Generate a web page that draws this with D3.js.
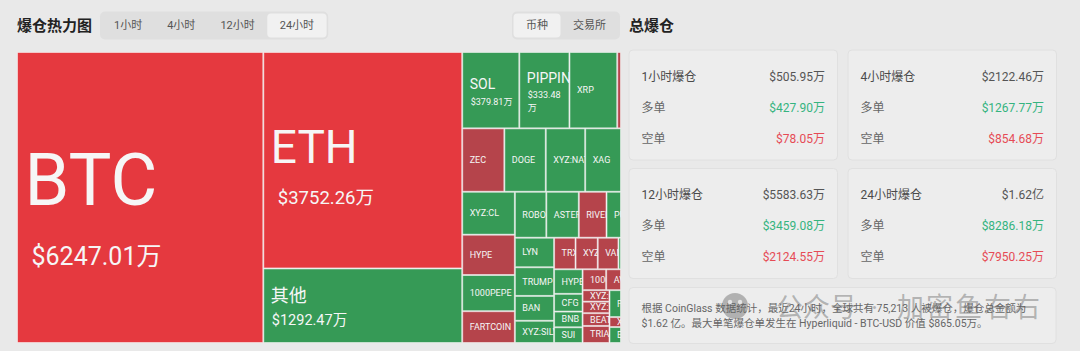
<!DOCTYPE html>
<html lang="zh">
<head>
<meta charset="UTF-8" />
<title>爆仓热力图</title>
<script src="https://cdn.jsdelivr.net/npm/d3@7"></script>
<style>
  body { margin: 0; background: #e9e9e9; }
  svg { display: block; font-family: Roboto, "Noto Sans CJK SC", sans-serif; }
</style>
</head>
<body>
<script>
// ---- treemap data (万 USD) ----
var coins = ["BTC", "ETH", "其他",
  "SOL", "PIPPIN", "XRP", "AAVE",
  "ZEC", "DOGE", "XYZ:NATGAS", "XAG",
  "XYZ:CL", "HYPE", "1000PEPE", "FARTCOIN",
  "ROBO", "ASTER", "RIVER", "PUMP",
  "LYN", "TRUMP", "BAN", "XYZ:SILVER",
  "TRX", "XYZ:NVDA", "VANA", "ZORA",
  "HYPER", "CFG", "BNB", "SUI",
  "1000BONK", "AVAX",
  "XYZ:GOLD", "XYZ:TSLA", "BEAT", "TRIA",
  "FIL", "XLM", "ENA"];
var amounts = [6247.01, 3752.26, 1292.47,
  379.81, 333.48, 318, 25,
  233, 229, 218, 198,
  197, 185, 166, 146,
  126, 130, 111, 58,
  101, 98, 85, 76,
  59, 61, 57, 7,
  61, 44, 39, 39,
  43, 27,
  27, 27, 30, 40,
  27, 10, 16];
// up = green, down = red, hot = bright red
var trend = ["hot", "hot", "up",
  "up", "up", "up", "down",
  "down", "up", "up", "up",
  "up", "down", "up", "down",
  "up", "up", "down", "up",
  "up", "up", "up", "up",
  "down", "down", "down", "up",
  "up", "up", "up", "up",
  "down", "down",
  "down", "down", "down", "down",
  "up", "down", "up"];
// nesting of the squarified rows / columns
var groups = ["", "g1", "g1",
  "g2/r1", "g2/r1", "g2/r1", "g2/r1",
  "g2/r2", "g2/r2", "g2/r2", "g2/r2",
  "g2/r3/c1", "g2/r3/c1", "g2/r3/c1", "g2/r3/c1",
  "g2/r3/c2/r1", "g2/r3/c2/r1", "g2/r3/c2/r1", "g2/r3/c2/r1",
  "g2/r3/c2/r2/c1", "g2/r3/c2/r2/c1", "g2/r3/c2/r2/c1", "g2/r3/c2/r2/c1",
  "g2/r3/c2/r2/c2/r1", "g2/r3/c2/r2/c2/r1", "g2/r3/c2/r2/c2/r1", "g2/r3/c2/r2/c2/r1",
  "g2/r3/c2/r2/c2/r2/c1", "g2/r3/c2/r2/c2/r2/c1", "g2/r3/c2/r2/c2/r2/c1", "g2/r3/c2/r2/c2/r2/c1",
  "g2/r3/c2/r2/c2/r2/c2/r1", "g2/r3/c2/r2/c2/r2/c2/r1",
  "g2/r3/c2/r2/c2/r2/c2/r2/c1", "g2/r3/c2/r2/c2/r2/c2/r2/c1", "g2/r3/c2/r2/c2/r2/c2/r2/c1", "g2/r3/c2/r2/c2/r2/c2/r2/c1",
  "g2/r3/c2/r2/c2/r2/c2/r2/c2", "g2/r3/c2/r2/c2/r2/c2/r2/c2", "g2/r3/c2/r2/c2/r2/c2/r2/c2"];

// ---- side panel data ----
var timeTabs = ["1小时", "4小时", "12小时", "24小时"];
var scopeTabs = ["币种", "交易所"];
var periods = ["1小时爆仓", "4小时爆仓", "12小时爆仓", "24小时爆仓"];
var totals = ["$505.95万", "$2122.46万", "$5583.63万", "$1.62亿"];
var longs = ["$427.90万", "$1267.77万", "$3459.08万", "$8286.18万"];
var shorts = ["$78.05万", "$854.68万", "$2124.55万", "$7950.25万"];
var summary = ["根据 CoinGlass 数据统计，最近24小时，全球共有 75,213 人被爆仓，爆仓总金额为",
  "$1.62 亿。最大单笔爆仓单发生在 Hyperliquid - BTC-USD 价值 $865.05万。"];

var colors = {up: "#369a56", down: "#b5444b", hot: "#e5393f"};
var green = "#35b47f", red = "#e64b55";

var svg = d3.select("body").append("svg")
  .attr("width", 1080)
  .attr("height", 351);

// ---- header ----
svg.append("text").attr("x", 17).attr("y", 25.5)
  .attr("dominant-baseline", "central")
  .attr("font-size", 15).attr("font-weight", 700).attr("fill", "#222")
  .text("爆仓热力图");
svg.append("text").attr("x", 629).attr("y", 25.5)
  .attr("dominant-baseline", "central")
  .attr("font-size", 15).attr("font-weight", 700).attr("fill", "#222")
  .text("总爆仓");

function tabGroup(labels, x0, selected) {
  var g = svg.append("g");
  var bg = g.append("rect").attr("y", 11.5).attr("height", 28).attr("rx", 5).attr("fill", "#dfdfdf");
  var pad = 12.5, x = x0 + 1.5;
  var texts = labels.map(function(t) {
    return g.append("text").attr("y", 25.5).attr("dominant-baseline", "central")
      .attr("text-anchor", "middle").attr("font-size", 11).attr("fill", "#555").text(t);
  });
  texts.forEach(function(t, i) {
    var w = t.node().getComputedTextLength() + pad * 2;
    if (i === selected) {
      g.insert("rect", "text").attr("x", x).attr("y", 13.5).attr("width", w).attr("height", 24)
        .attr("rx", 4).attr("fill", "#f1f1f1");
    }
    t.attr("x", x + w / 2);
    x += w;
  });
  bg.attr("x", x0).attr("width", x - x0 + 1.5);
}
tabGroup(timeTabs, 100, 3);
tabGroup(scopeTabs, 512, 0);

// ---- treemap ----
var root = {key: "root", children: []};
coins.forEach(function(name, i) {
  var parent = root;
  if (groups[i]) groups[i].split("/").forEach(function(key) {
    var next = parent.children.find(function(c) { return c.key === key; });
    if (!next) { next = {key: key, children: []}; parent.children.push(next); }
    parent = next;
  });
  parent.children.push({name: name, value: amounts[i], trend: trend[i]});
});

function tile(node, x0, y0, x1, y1) {
  if (node.depth % 2 === 0) d3.treemapDice(node, x0, y0, x1, y1);
  else d3.treemapSlice(node, x0, y0, x1, y1);
}

var hier = d3.hierarchy(root).sum(function(d) { return d.value || 0; });
d3.treemap().tile(tile).size([604, 291])(hier);

var nameSize = d3.scaleThreshold().domain([325, 1000, 3000, 5000]).range([9, 14, 18, 46, 72]);
var valueSize = d3.scaleThreshold().domain([325, 1000, 3000, 5000]).range([0, 9, 14.5, 18.5, 25]);

var map = svg.append("g").attr("transform", "translate(17,52)");
var cell = map.selectAll("g.cell")
  .data(hier.leaves())
  .join("g").attr("class", "cell");

cell.append("clipPath").attr("id", function(d, i) { return "clip" + i; })
  .append("rect")
  .attr("x", function(d) { return d.x0; }).attr("y", function(d) { return d.y0; })
  .attr("width", function(d) { return d.x1 - d.x0; })
  .attr("height", function(d) { return d.y1 - d.y0; });

cell.append("rect")
  .attr("x", function(d) { return d.x0 + 0.5; }).attr("y", function(d) { return d.y0 + 0.5; })
  .attr("width", function(d) { return Math.max(0, d.x1 - d.x0 - 1); })
  .attr("height", function(d) { return Math.max(0, d.y1 - d.y0 - 1); })
  .attr("fill", function(d) { return colors[d.data.trend]; })
  .attr("stroke", "rgba(255,255,255,0.5)")
  .attr("stroke-width", 1);

var fmt = d3.format(".2f");
cell.each(function(d, i) {
  var g = d3.select(this).append("g").attr("clip-path", "url(#clip" + i + ")")
    .attr("fill", "#f6f6f6");
  var fs = nameSize(d.data.value), vs = valueSize(d.data.value);
  var w = d.x1 - d.x0, cy = (d.y0 + d.y1) / 2;
  var x = d.x0 + 7.5;
  if (!vs) {
    g.append("text").attr("x", x).attr("y", cy).attr("dominant-baseline", "central")
      .attr("font-size", fs).text(d.data.name);
    return;
  }
  var label = "$" + fmt(d.data.value) + "万";
  var vx = x + (vs >= 18 ? 7 : 1);
  var probe = g.append("text").attr("font-size", vs).text(label);
  var lines = probe.node().getComputedTextLength() > w - 12
    ? [label.slice(0, -1), label.slice(-1)] : [label];
  probe.remove();
  var nh = fs * 1.65, vh = vs * 1.4;
  var top = cy - (nh + vh * lines.length) / 2;
  g.append("text").attr("x", x).attr("y", top + nh / 2).attr("dominant-baseline", "central")
    .attr("font-size", fs).text(d.data.name);
  lines.forEach(function(t, j) {
    g.append("text").attr("x", vx).attr("y", top + nh + vh * j + vh / 2)
      .attr("dominant-baseline", "central").attr("font-size", vs).text(t);
  });
});

// ---- summary cards ----
periods.forEach(function(p, i) {
  var cx = 629 + (i % 2) * 219, cy = 50 + Math.floor(i / 2) * 118.5;
  var g = svg.append("g").attr("transform", "translate(" + cx + "," + cy + ")");
  g.append("rect").attr("width", 208.5).attr("height", 110).attr("rx", 4)
    .attr("fill", "#ededed").attr("stroke", "#e0e0e0");
  var rows = [[p, totals[i], "#555"], ["多单", longs[i], green], ["空单", shorts[i], red]];
  rows.forEach(function(r, j) {
    var y = 26.5 + j * 31;
    g.append("text").attr("x", 12.5).attr("y", y).attr("dominant-baseline", "central")
      .attr("font-size", 12).attr("fill", j ? "#666" : "#4a4a4a").text(r[0]);
    g.append("text").attr("x", 196).attr("y", y).attr("dominant-baseline", "central")
      .attr("text-anchor", "end").attr("font-size", 12).attr("fill", r[2]).text(r[1]);
  });
});

var note = svg.append("g").attr("transform", "translate(629,287.5)");
note.append("rect").attr("width", 427).attr("height", 56).attr("rx", 4)
  .attr("fill", "#ededed").attr("stroke", "#e0e0e0");
summary.forEach(function(t, j) {
  note.append("text").attr("x", 12.5).attr("y", 21 + j * 15).attr("dominant-baseline", "central")
    .attr("font-size", 10.5).attr("fill", "#666").text(t);
});

// watermark
var wm = svg.append("g").attr("fill", "rgba(95,95,95,0.42)");
wm.append("circle").attr("cx", 735).attr("cy", 306).attr("r", 13);
wm.append("circle").attr("cx", 730).attr("cy", 302).attr("r", 2.2).attr("fill", "#e4e4e4");
wm.append("circle").attr("cx", 740).attr("cy", 302).attr("r", 2.2).attr("fill", "#e4e4e4");
wm.append("text").attr("x", 776).attr("y", 308).attr("dominant-baseline", "central")
  .attr("font-size", 27).text("公众号");
wm.append("text").attr("x", 871).attr("y", 308).attr("dominant-baseline", "central")
  .attr("font-size", 27).text("·");
wm.append("text").attr("x", 897).attr("y", 308).attr("dominant-baseline", "central")
  .attr("font-size", 27).attr("letter-spacing", 2).text("加密鱼右右");
</script>
</body>
</html>
